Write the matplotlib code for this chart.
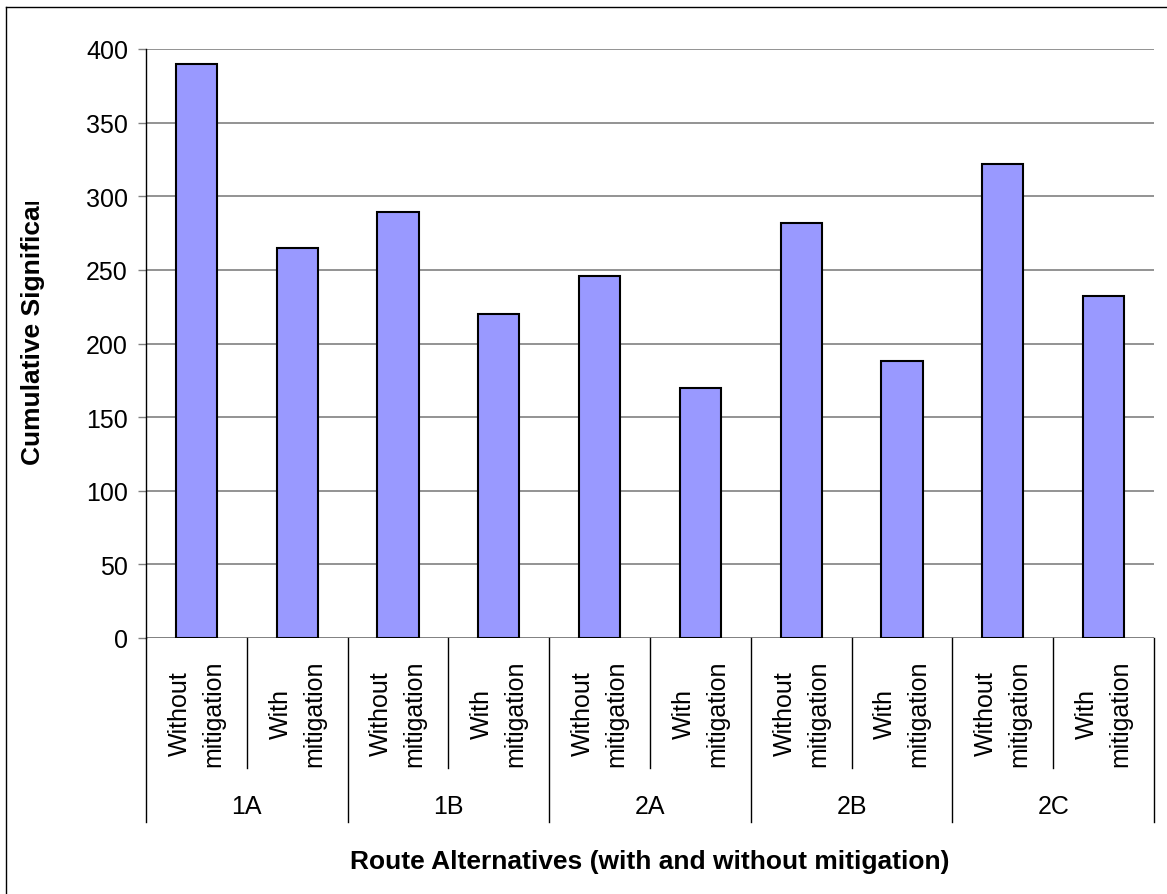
import matplotlib
matplotlib.use('Agg')
import matplotlib.pyplot as plt
from matplotlib.lines import Line2D
from matplotlib.transforms import Bbox, TransformedBbox, blended_transform_factory
import numpy as np

plt.rcParams['font.family'] = ['Liberation Sans', 'DejaVu Sans']

# data
groups = ['1A', '1B', '2A', '2B', '2C']
sublabels = ['Without\nmitigation', 'With\nmitigation']
without_mit = [390, 289, 246, 282, 322]
with_mit = [265, 220, 170, 188, 232]

values = []
for a, b in zip(without_mit, with_mit):
    values += [a, b]
x = np.arange(len(values))

W, H = 1167, 895
fig = plt.figure(figsize=(W / 100, H / 100), dpi=100)
ax = fig.add_axes([146 / W, 1 - 639 / H, (1154 - 146) / W, (639 - 50) / H])

ax.bar(x, values, width=0.41, color='#9999FF', edgecolor='black', linewidth=1.5, zorder=3)

ax.set_xlim(-0.5, len(values) - 0.5)
ax.set_ylim(0, 400)
ax.set_yticks(np.arange(0, 401, 50))
ax.yaxis.grid(True, color='#808080', linewidth=1.2, zorder=0)
ax.tick_params(axis='y', labelsize=18, length=6, width=1.0, color='#808080', pad=7)
ax.tick_params(axis='x', bottom=False, labelbottom=False)
for s in ['top', 'right', 'bottom']:
    ax.spines[s].set_visible(False)
ax.spines['left'].set_linewidth(1.0)
ax.axhline(0, color='#808080', linewidth=1.2, zorder=2)

# multi-level category axis
tr = blended_transform_factory(ax.transData, ax.transAxes)
y_inner = (639 - 769) / 589
y_outer = (639 - 823) / 589
for i in range(len(groups)):
    xi = 2 * i + 0.5
    ax.plot([xi, xi], [0, y_inner], color='black', lw=1.0, transform=tr, clip_on=False)
for i in range(len(groups) + 1):
    xo = 2 * i - 0.5
    ax.plot([xo, xo], [0, y_outer], color='black', lw=1.0, transform=tr, clip_on=False)

for i, xv in enumerate(x):
    ax.text(xv, (639 - 714) / 589, sublabels[i % 2], rotation=90, ha='center', va='center',
            multialignment='center', linespacing=1.5, fontsize=18, transform=tr)
for i, g in enumerate(groups):
    ax.text(2 * i + 0.5, (639 - 807) / 589, g, ha='center', va='center', fontsize=18, transform=tr)

ax.text(0.5, (639 - 862) / 589, 'Route Alternatives (with and without mitigation)',
        ha='center', va='center', fontsize=19, fontweight='bold', transform=ax.transAxes)

# y label, cut off at the top like the original
yl = fig.text(33 / W, 1 - 465 / H, 'Cumulative Significance', rotation=90, rotation_mode='anchor',
              ha='left', va='center', fontsize=19, fontweight='bold')
yl.set_clip_box(TransformedBbox(Bbox.from_extents(0, 0, 1, 1 - 203 / H), fig.transFigure))
yl.set_clip_on(True)

# chart area border (top and left visible)
fig.add_artist(Line2D([6 / W, 1], [1 - 8 / H, 1 - 8 / H], transform=fig.transFigure, color='black', lw=1.0))
fig.add_artist(Line2D([6 / W, 6 / W], [0, 1 - 8 / H], transform=fig.transFigure, color='black', lw=1.0))

plt.savefig('out.png', dpi=100)
